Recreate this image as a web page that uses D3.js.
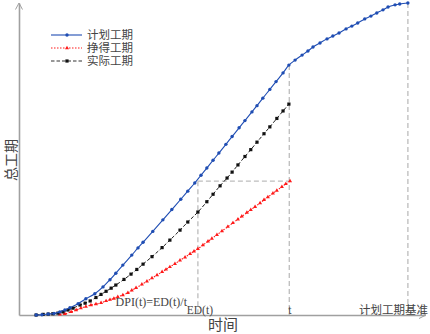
<!DOCTYPE html>
<html>
<head>
<meta charset="utf-8">
<script src="https://cdn.jsdelivr.net/npm/d3@7"></script>
<style>
  body { margin: 0; background: #fff; }
  text { font-family: "Liberation Serif", "Noto Sans CJK SC", serif; fill: #444; }
</style>
</head>
<body>
<div id="chart-area"></div>
<script>
const width = 430;
const height = 334;

// time / total duration (x: 0..104.4, y: 0..100)
const planT = [4.4,5.9,7.5,9.0,10.5,11.8,13.1,15.2,17.2,19.5,21.6,23.4,24.9,26.7,29.0,30.6,31.9,34.4,37.0,39.3,41.6,43.4,45.2,46.8,48.3,49.9,51.4,53.2,54.8,56.6,58.1,59.9,61.2,62.7,64.5,66.1,67.9,69.4,71.0,72.8,74.3,75.6,77.4,79.2,80.7,82.3,84.1,85.6,87.1,88.9,90.5,92.0,93.6,94.9,96.7,97.9,100];
const planD = [0,0.1,0.3,0.5,1.0,1.6,2.3,3.6,5.2,6.8,9.0,11.3,13.4,16.0,19.2,21.5,23.3,26.8,30.5,33.8,37.1,39.7,42.3,44.8,47.1,49.6,51.9,54.7,57.2,60.0,62.3,65.1,67.1,69.5,72.3,74.8,77.6,80.1,81.7,83.3,84.6,85.9,87.2,88.5,89.4,90.4,91.7,92.6,93.6,94.9,95.8,96.8,97.8,98.7,99.4,99.7,100];

const earnT = [10.5,11.8,13.4,14.7,15.9,17.2,18.5,19.8,21.1,22.4,23.4,24.4,25.4,26.7,28.0,29.0,30.1,31.6,32.9,34.2,35.5,36.8,37.8,38.8,40.1,41.4,42.7,44.0,45.0,46.0,47.3,48.6,49.6,50.9,52.2,53.7,55.0,56.3,57.3,58.6,59.6,60.7,62.0,63.0,64.0,65.3,66.3,67.6,68.6,69.7];
const earnD = [0.2,0.4,1.0,1.6,2.2,2.7,3.2,3.5,3.9,4.5,4.9,5.3,5.8,6.4,7.1,7.9,8.7,9.8,10.8,11.8,12.8,13.8,14.6,15.4,16.4,17.5,18.5,19.6,20.4,21.2,22.4,23.6,24.5,25.7,26.9,28.3,29.5,30.7,31.6,32.8,33.7,34.7,35.9,36.9,37.8,39.0,39.9,41.1,42.0,42.9];

const actT = [4.4,6.2,7.5,8.7,10.0,11.3,12.6,13.9,15.7,17.0,18.3,19.8,21.1,22.4,23.7,24.9,27.0,28.8,30.3,31.9,34.2,36.8,38.8,41.4,43.4,46.0,48.3,49.9,51.7,53.5,54.8,56.3,58.1,59.6,61.2,63.0,64.5,66.3,67.9,69.4];
const actD = [0,0.2,0.3,0.4,0.6,1.0,1.6,2.2,3.2,3.8,4.5,5.6,6.6,7.6,8.6,9.6,11.4,13.1,14.6,16.3,18.7,21.6,24.0,27.2,29.8,33.0,36.3,38.7,41.4,43.9,45.8,48.1,50.8,53.0,55.4,58.1,60.3,63.0,65.4,67.6];

const seriesNames = ["计划工期", "挣得工期", "实际工期"];

// guide values
const tNow = 69.5;
const edT = 46.0;
const evAtT = 42.9;
const planAtT = 80.1;
const planEnd = 100;

const labels = {
  x: "时间", y: "总工期", dpi: "DPI(t)=ED(t)/t",
  ed: "ED(t)", t: "t", base: "计划工期基准"
};

const svg = d3.select("#chart-area")
  .append("svg")
  .attr("width", width)
  .attr("height", height);

const x = d3.scaleLinear().domain([0, 104.4]).range([19, 425]);
const y = d3.scaleLinear().domain([0, 100]).range([315, 3]);

const axisColor = "#a0a0a0";

// axes (domain lines only)
svg.append("g")
  .attr("transform", `translate(0,${y(0)})`)
  .call(d3.axisBottom(x).ticks(0).tickSizeOuter(0))
  .call(g => g.select(".domain").attr("stroke", axisColor).attr("stroke-width", 1.6));

svg.append("g")
  .attr("transform", `translate(${x(0)},0)`)
  .call(d3.axisLeft(y).ticks(0).tickSizeOuter(0))
  .call(g => g.select(".domain").attr("stroke", axisColor).attr("stroke-width", 1.6));

// arrow heads
svg.append("path")
  .attr("d", `M${x(0)-3.5},${y(100)+6.5}L${x(0)},${y(100)}L${x(0)+3.5},${y(100)+6.5}`)
  .attr("fill", "none").attr("stroke", axisColor).attr("stroke-width", 1);
svg.append("path")
  .attr("d", `M${x(104.4)-6},${y(0)-3.5}L${x(104.4)+1},${y(0)}L${x(104.4)-6},${y(0)+3.5}`)
  .attr("fill", "none").attr("stroke", axisColor).attr("stroke-width", 1);

// dashed guides
const guideColor = "#bdbdbd";
const guides = [
  [[tNow, planAtT], [tNow, 0]],
  [[planEnd, 100], [planEnd, 0]],
  [[edT, evAtT], [tNow, evAtT]],
  [[edT, evAtT], [edT, 0]]
];
svg.append("g").selectAll("line")
  .data(guides)
  .enter().append("line")
  .attr("x1", d => x(d[0][0])).attr("y1", d => y(d[0][1]))
  .attr("x2", d => x(d[1][0])).attr("y2", d => y(d[1][1]))
  .attr("stroke", guideColor)
  .attr("stroke-width", 1.3)
  .attr("stroke-dasharray", "5,3");

const line = d3.line().x(d => x(d[0])).y(d => y(d[1])).curve(d3.curveMonotoneX);

const plan = planT.map((t, i) => [t, planD[i]]);
const earn = earnT.map((t, i) => [t, earnD[i]]);
const act = actT.map((t, i) => [t, actD[i]]);

const blue = "#1f4db3";
const red = "#ff1a1a";
const black = "#111";

// earned (red dotted, triangles)
svg.append("path").datum(earn)
  .attr("d", line).attr("fill", "none")
  .attr("stroke", red).attr("stroke-width", 1.1).attr("stroke-dasharray", "1.5,1.5");
svg.append("g").selectAll("path")
  .data(earn).enter().append("path")
  .attr("transform", d => `translate(${x(d[0])},${y(d[1])})`)
  .attr("d", d3.symbol(d3.symbolTriangle, 7))
  .attr("fill", red);

// actual (black dashed, squares)
svg.append("path").datum(act)
  .attr("d", line).attr("fill", "none")
  .attr("stroke", "#222").attr("stroke-width", 1).attr("stroke-dasharray", "3.5,2");
svg.append("g").selectAll("rect")
  .data(act).enter().append("rect")
  .attr("x", d => x(d[0]) - 1.6).attr("y", d => y(d[1]) - 1.6)
  .attr("width", 3.2).attr("height", 3.2)
  .attr("fill", black);

// plan (blue solid, dots)
svg.append("path").datum(plan)
  .attr("d", line).attr("fill", "none")
  .attr("stroke", blue).attr("stroke-width", 1.1);
svg.append("g").selectAll("circle")
  .data(plan).enter().append("circle")
  .attr("cx", d => x(d[0])).attr("cy", d => y(d[1]))
  .attr("r", 1.7)
  .attr("fill", blue);

// legend
const legend = svg.append("g").attr("transform", "translate(51,35)");
const legendStyles = [
  { color: blue, dash: null, mark: "circle" },
  { color: red, dash: "1.5,1.5", mark: "tri" },
  { color: "#333", dash: "3.5,2", mark: "rect" }
];
seriesNames.forEach((name, i) => {
  const s = legendStyles[i];
  const row = legend.append("g").attr("transform", `translate(0,${i * 13})`);
  row.append("line").attr("x1", 0).attr("x2", 31)
    .attr("stroke", s.color).attr("stroke-width", 1.1)
    .attr("stroke-dasharray", s.dash);
  if (s.mark === "circle") row.append("circle").attr("cx", 16).attr("r", 1.7).attr("fill", s.color);
  if (s.mark === "tri") row.append("path").attr("transform", "translate(16,0)").attr("d", d3.symbol(d3.symbolTriangle, 7)).attr("fill", s.color);
  if (s.mark === "rect") row.append("rect").attr("x", 14.4).attr("y", -1.6).attr("width", 3.2).attr("height", 3.2).attr("fill", black);
  row.append("text").attr("x", 36).attr("y", 4.2)
    .attr("font-size", "11.5px").text(name);
});

// labels
svg.append("text").attr("x", 187).attr("y", 306)
  .attr("text-anchor", "end").attr("font-size", "12px").text(labels.dpi);
svg.append("text").attr("x", x(edT) + 2).attr("y", 314)
  .attr("text-anchor", "middle").attr("font-size", "11.5px").text(labels.ed);
svg.append("text").attr("x", x(tNow) + 0.5).attr("y", 314)
  .attr("text-anchor", "middle").attr("font-size", "11.5px").text(labels.t);
svg.append("text").attr("x", 428).attr("y", 313.5)
  .attr("text-anchor", "end").attr("font-size", "11.5px").text(labels.base);
svg.append("text").attr("x", 223).attr("y", 330)
  .attr("text-anchor", "middle").attr("font-size", "15px").text(labels.x);
svg.append("text")
  .attr("transform", "translate(15.5,160) rotate(-90)")
  .attr("text-anchor", "middle").attr("font-size", "14px").text(labels.y);
</script>
</body>
</html>
